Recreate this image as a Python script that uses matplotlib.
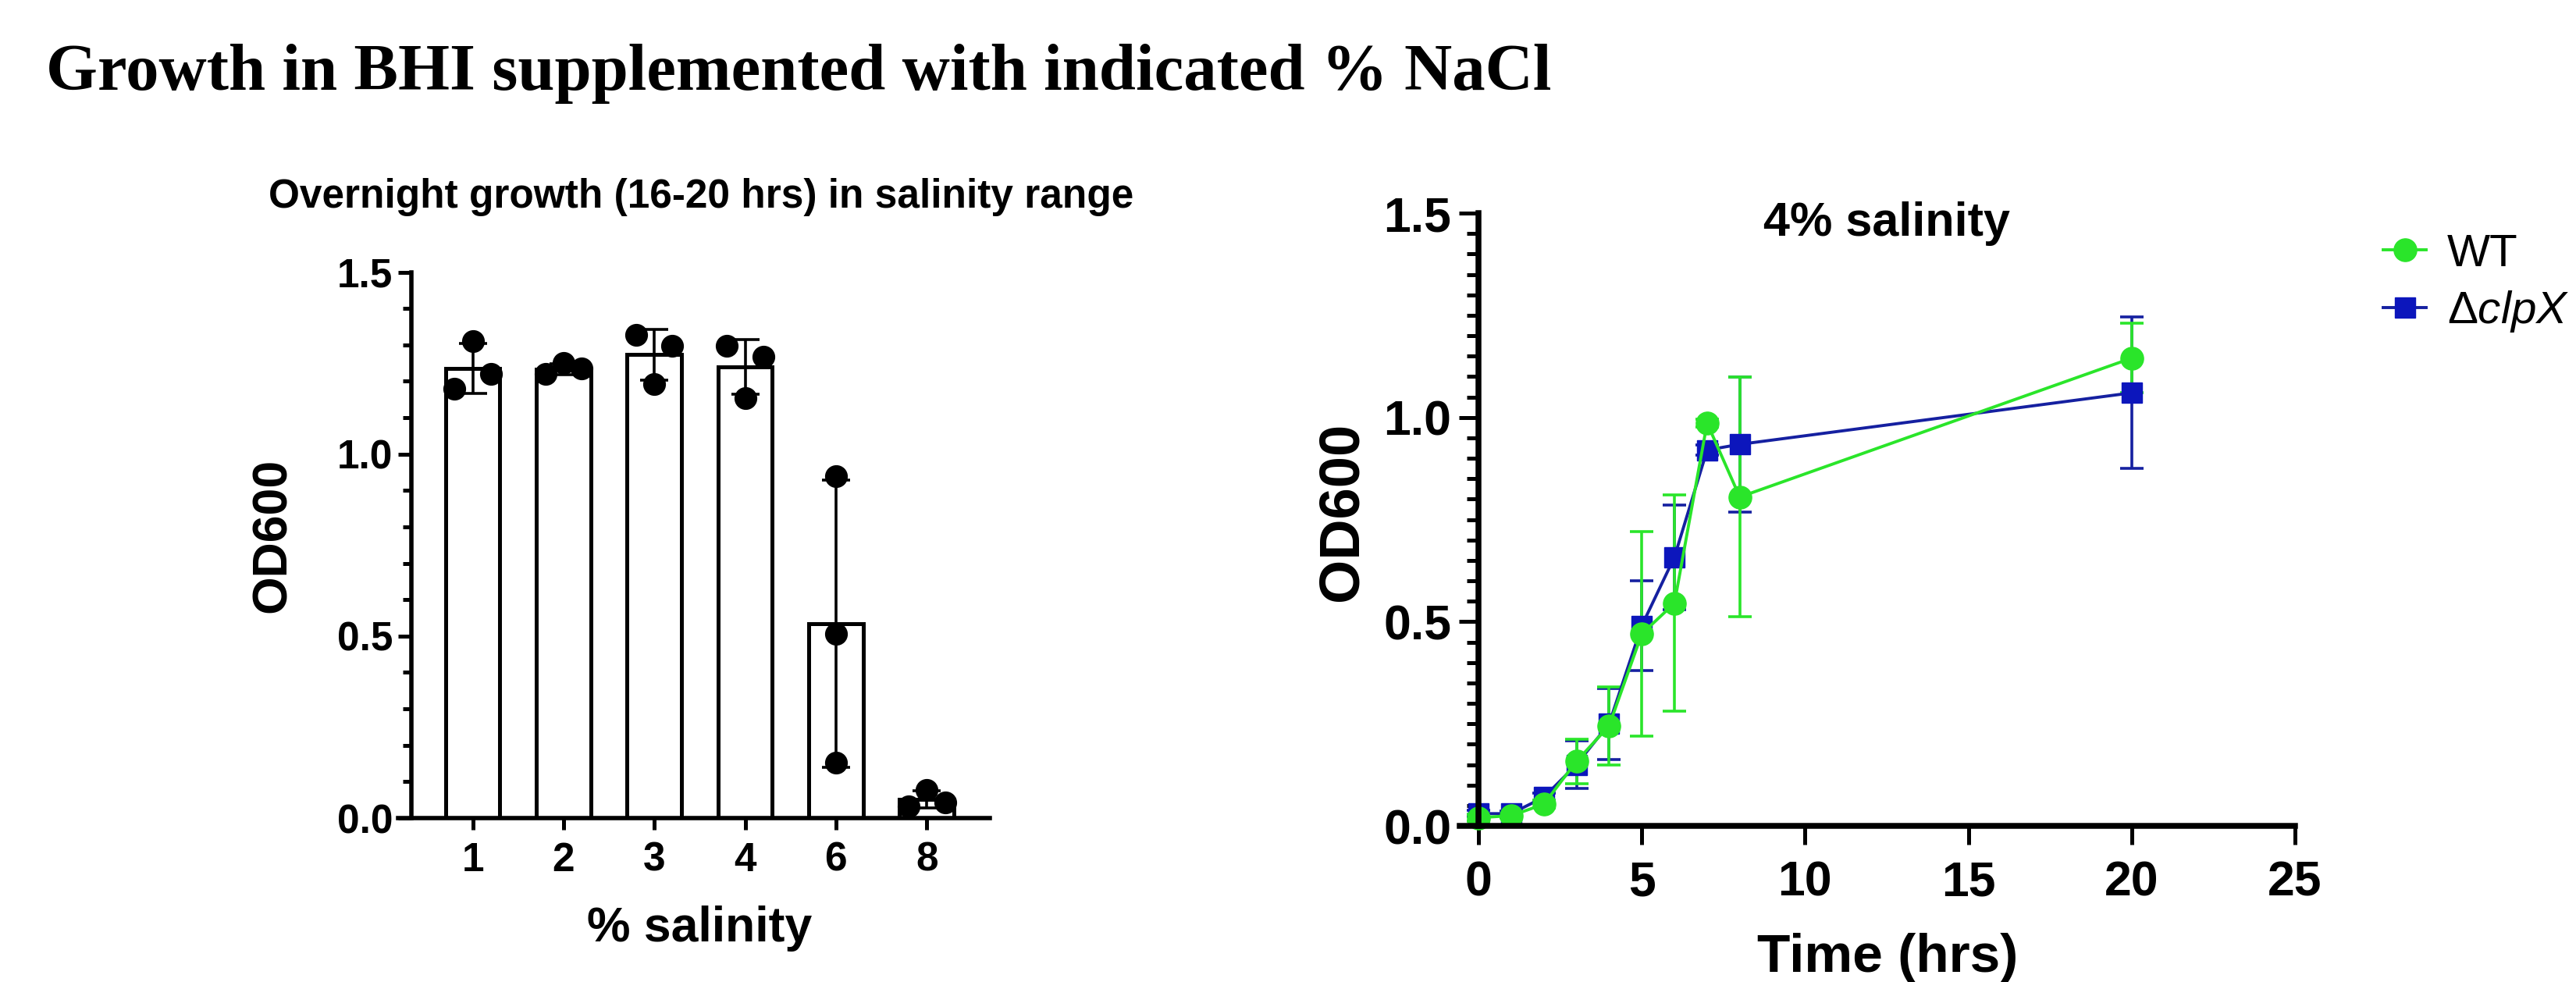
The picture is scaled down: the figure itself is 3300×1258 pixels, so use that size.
import numpy as np
import matplotlib
matplotlib.use('Agg')
import matplotlib.pyplot as plt
from matplotlib.lines import Line2D
from matplotlib.ticker import MultipleLocator, FormatStrFormatter

plt.rcParams['font.family'] = ['Liberation Sans', 'DejaVu Sans']
plt.rcParams['font.weight'] = 'bold'
plt.rcParams['mathtext.fontset'] = 'custom'
plt.rcParams['mathtext.rm'] = 'Liberation Sans:weight=normal'
plt.rcParams['mathtext.it'] = 'Liberation Sans:style=italic:weight=normal'

# left panel - overnight OD600 per salinity, three replicates each
salinity = ['1', '2', '3', '4', '6', '8']
od_reps = [[1.18, 1.31, 1.22],
           [1.22, 1.25, 1.235],
           [1.327, 1.193, 1.298],
           [1.297, 1.154, 1.268],
           [0.94, 0.507, 0.153],
           [0.033, 0.078, 0.042]]
od_mean = [1.235, 1.234, 1.273, 1.240, 0.534, 0.051]
od_sd = [0.069, 0.015, 0.069, 0.075, 0.394, 0.024]

# right panel - growth curve at 4% salinity
time_hrs = [0, 1, 2, 3, 4, 5, 6, 7, 8, 20]
wt_od = [0.02, 0.025, 0.053, 0.158, 0.245, 0.47, 0.545, 0.986, 0.805, 1.145]
wt_sd = [0.008, 0.006, 0.01, 0.055, 0.095, 0.25, 0.265, 0.01, 0.293, 0.085]
clpx_od = [0.03, 0.03, 0.07, 0.15, 0.25, 0.49, 0.658, 0.92, 0.934, 1.06]
clpx_sd = [0.008, 0.006, 0.01, 0.058, 0.087, 0.11, 0.128, 0.012, 0.165, 0.185]

green = '#2ae52a'
blue = '#0c16bc'
blue_line = '#1520a0'

W, H = 3300, 1258
fig = plt.figure(figsize=(W / 100, H / 100), dpi=100)

def fx(px):
    return px / W

def fy(py):
    return (H - py) / H

fig.text(fx(59), fy(115), 'Growth in BHI supplemented with indicated % NaCl',
         family='Liberation Serif', fontweight='bold', fontsize=61,
         ha='left', va='baseline')

# ---------- bar chart ----------
ax1 = fig.add_axes([fx(510), fy(1048), fx(1268) - fx(510), fy(348.5) - fy(1048)])
xpos = np.arange(len(salinity))
ax1.bar(xpos, od_mean, width=0.6, color='white', edgecolor='black',
        linewidth=3.6, zorder=2)
ax1.errorbar(xpos, od_mean, yerr=od_sd, fmt='none', ecolor='black',
             elinewidth=2.6, capsize=13, capthick=2.6, zorder=3)
dot_dx = [[-0.2, 0, 0.2], [-0.2, 0, 0.2], [-0.2, 0, 0.2], [-0.2, 0, 0.2],
          [0, 0, 0], [-0.2, 0, 0.2]]
for i, reps in enumerate(od_reps):
    ax1.plot([xpos[i] + d for d in dot_dx[i]], reps, 'o', color='black',
             markersize=20, zorder=4, clip_on=False)

ax1.set_xlim(-0.821, 5.694)
ax1.set_ylim(0, 1.5)
ax1.spines[['top', 'right']].set_visible(False)
ax1.spines['left'].set_position(('data', -0.675))
for s in ['left', 'bottom']:
    ax1.spines[s].set_linewidth(4)
ax1.set_xticks(xpos)
ax1.set_xticklabels(salinity)
ax1.yaxis.set_major_locator(MultipleLocator(0.5))
ax1.yaxis.set_minor_locator(MultipleLocator(0.1))
ax1.yaxis.set_major_formatter(FormatStrFormatter('%.1f'))
ax1.tick_params(axis='both', which='both', width=3.6, labelsize=37)
ax1.tick_params(axis='y', which='major', length=12, pad=5)
ax1.tick_params(axis='y', which='minor', length=8)
ax1.tick_params(axis='x', which='major', length=11, pad=10.5)

fig.text(fx(898), fy(266), 'Overnight growth (16-20 hrs) in salinity range',
         fontsize=37, ha='center', va='baseline')
fig.text(fx(896), fy(1206), '% salinity', fontsize=45, ha='center', va='baseline')
fig.text(fx(349), fy(686), 'OD600', fontsize=45, rotation=90,
         ha='center', va='center')

# ---------- growth curve ----------
ax2 = fig.add_axes([fx(1870), fy(1058), fx(2940) - fx(1870), fy(273) - fy(1058)])
for od, sd, col, lcol, mk, ms in [(clpx_od, clpx_sd, blue, blue_line, 's', 19),
                                  (wt_od, wt_sd, green, green, 'o', 21)]:
    eb = ax2.errorbar(time_hrs, od, yerr=sd, fmt='-' + mk, color=lcol,
                      markerfacecolor=col, markeredgecolor=col, markersize=ms,
                      linewidth=2.8, elinewidth=2.6, capsize=11, capthick=2.6)
    for art in eb.get_children():
        art.set_clip_on(False)

ax2.set_xlim(-0.574, 25)
ax2.set_ylim(0, 1.5)
ax2.spines[['top', 'right']].set_visible(False)
ax2.spines['left'].set_position(('data', 0))
for s in ['left', 'bottom']:
    ax2.spines[s].set_linewidth(5.4)
ax2.xaxis.set_major_locator(MultipleLocator(5))
ax2.yaxis.set_major_locator(MultipleLocator(0.5))
ax2.yaxis.set_minor_locator(MultipleLocator(0.05))
ax2.yaxis.set_major_formatter(FormatStrFormatter('%.1f'))
ax2.tick_params(axis='both', which='both', width=3.6, labelsize=45)
ax2.tick_params(axis='y', which='major', length=18, pad=7)
ax2.tick_params(axis='y', which='minor', length=11)
ax2.tick_params(axis='x', which='major', length=17, pad=14)

fig.text(fx(2417), fy(302), '4% salinity', fontsize=44, ha='center', va='baseline')
fig.text(fx(2418), fy(1245), 'Time (hrs)', fontsize=50, ha='center', va='baseline')
fig.text(fx(1719), fy(655), 'OD600', fontsize=52, rotation=90,
         ha='center', va='center')

handles = [Line2D([], [], color=green, marker='o', markersize=21, linewidth=2.8),
           Line2D([], [], color=blue_line, marker='s', markersize=19, linewidth=2.8,
                  markerfacecolor=blue, markeredgecolor=blue)]
fig.legend(handles, ['WT', r'Δ$\mathit{clpX}$'], loc='center left',
           bbox_to_anchor=(fx(3053), fy(363.5)), frameon=False,
           prop={'family': 'Liberation Sans', 'weight': 'normal', 'size': 42},
           handlelength=0.95, handletextpad=0.45, labelspacing=0.3,
           borderpad=0, borderaxespad=0)

fig.savefig('out.png', dpi=100, facecolor='white')
